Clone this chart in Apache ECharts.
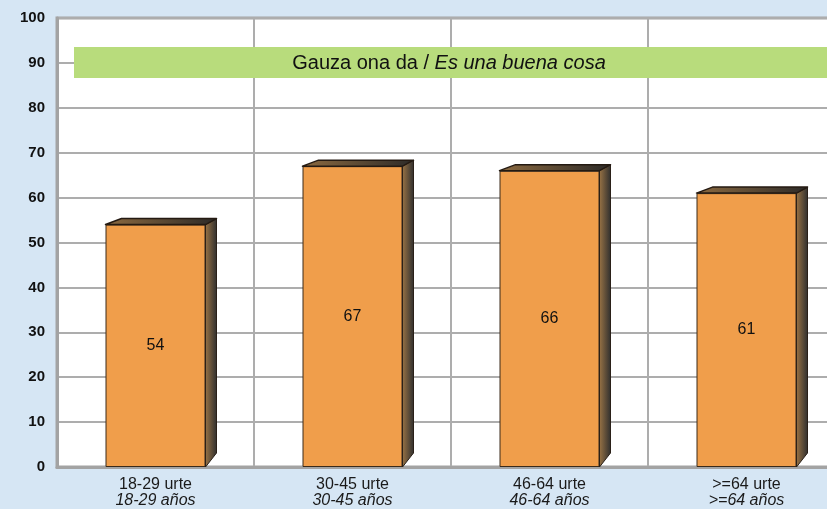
<!DOCTYPE html>
<html>
<head>
<meta charset="utf-8">
<script src="https://cdn.jsdelivr.net/npm/echarts@6/dist/echarts.min.js"></script>
<style>
  html, body { margin: 0; padding: 0; background: #d6e6f4; }
  #chart { width: 827px; height: 509px; }
</style>
</head>
<body>
<div id="chart"></div>
<script>
// datuak
var categoriesEu = ["18-29 urte", "30-45 urte", "46-64 urte", ">=64 urte"];
var categoriesEs = ["18-29 años", "30-45 años", "46-64 años", ">=64 años"];
var values = [54, 67, 66, 61];
var yTicks = [0, 10, 20, 30, 40, 50, 60, 70, 80, 90, 100];

var chart = echarts.init(document.getElementById("chart"));

var FONT = "Liberation Sans, Arial, sans-serif";
var BAR_W = 100;
var DX = 11, DY = 6;

// 3D alde eta goiko aurpegia
function render3d(params, api) {
  var v = api.value(1);
  var top = api.coord([api.value(0), v]);
  var bot = api.coord([api.value(0), 0]);
  var xl = top[0] - BAR_W / 2, xr = top[0] + BAR_W / 2;
  var yt = top[1], yb = bot[1];
  return {
    type: "group",
    children: [
      {
        type: "polygon",
        shape: { points: [[xr, yt], [xr + DX, yt - DY], [xr + DX, yb - 14], [xr, yb]] },
        style: {
          fill: new echarts.graphic.LinearGradient(0, 0, 1, 0, [
            { offset: 0, color: "#9a7445" },
            { offset: 1, color: "#2e2e2e" }
          ]),
          stroke: "#2a2018",
          lineWidth: 1,
          lineJoin: "round"
        }
      },
      {
        type: "polygon",
        shape: { points: [[xl, yt], [xl + 16, yt - DY], [xr + DX, yt - DY], [xr, yt]] },
        style: {
          fill: new echarts.graphic.LinearGradient(0, 0, 1, 0, [
            { offset: 0, color: "#8c6a40" },
            { offset: 1, color: "#2c2a28" }
          ]),
          stroke: "#241a12",
          lineWidth: 1.5,
          lineJoin: "round"
        }
      }
    ]
  };
}

var option = {
  backgroundColor: "#d6e6f4",
  animation: false,
  grid: {
    left: 57,
    top: 18,
    right: -18,
    bottom: 42,
    outerBoundsMode: "none",
    show: true,
    backgroundColor: "#ffffff",
    borderColor: "#a3a3a3",
    borderWidth: 3
  },
  xAxis: {
    type: "category",
    data: categoriesEu,
    axisLine: { lineStyle: { color: "#a3a3a3", width: 3 } },
    axisTick: { show: false },
    splitLine: { show: true, lineStyle: { color: "#adadad", width: 2 } },
    axisLabel: {
      margin: 10,
      formatter: function (val, i) {
        return "{a|" + val + "}\n{b|" + categoriesEs[i] + "}";
      },
      rich: {
        a: { fontFamily: FONT, fontSize: 16, color: "#1a1a1a", lineHeight: 16 },
        b: { fontFamily: FONT, fontSize: 16, fontStyle: "italic", color: "#1a1a1a", lineHeight: 16 }
      }
    }
  },
  yAxis: {
    type: "value",
    min: 0,
    max: yTicks[yTicks.length - 1],
    interval: yTicks[1] - yTicks[0],
    axisLine: { show: true, lineStyle: { color: "#a3a3a3", width: 3 } },
    axisTick: { show: false },
    splitLine: { lineStyle: { color: "#adadad", width: 2 } },
    axisLabel: {
      margin: 12,
      fontFamily: FONT,
      fontSize: 15,
      fontWeight: "bold",
      color: "#111"
    }
  },
  series: [
    {
      type: "bar",
      data: values,
      barWidth: BAR_W,
      z: 3,
      itemStyle: { color: "#f09e4b", borderColor: "#3a2a1a", borderWidth: 1 },
      label: {
        show: true,
        position: "inside",
        fontFamily: FONT,
        fontSize: 16,
        color: "#111"
      }
    },
    {
      type: "custom",
      z: 4,
      renderItem: render3d,
      data: values.map(function (v, i) { return [i, v]; })
    }
  ],
  graphic: [
    {
      type: "rect",
      left: 74,
      top: 47,
      shape: { width: 780, height: 31 },
      style: { fill: "#b8dc7c" },
      z: 10
    },
    {
      type: "text",
      x: 449,
      y: 63,
      z: 11,
      style: {
        text: "{n|Gauza ona da / }{i|Es una buena cosa}",
        align: "center",
        verticalAlign: "middle",
        rich: {
          n: { fontFamily: FONT, fontSize: 20, fill: "#111" },
          i: { fontFamily: FONT, fontSize: 20, fontStyle: "italic", fill: "#111" }
        }
      }
    }
  ]
};

chart.setOption(option);
window.onresize = function () {
  chart.resize();
};
</script>
</body>
</html>
